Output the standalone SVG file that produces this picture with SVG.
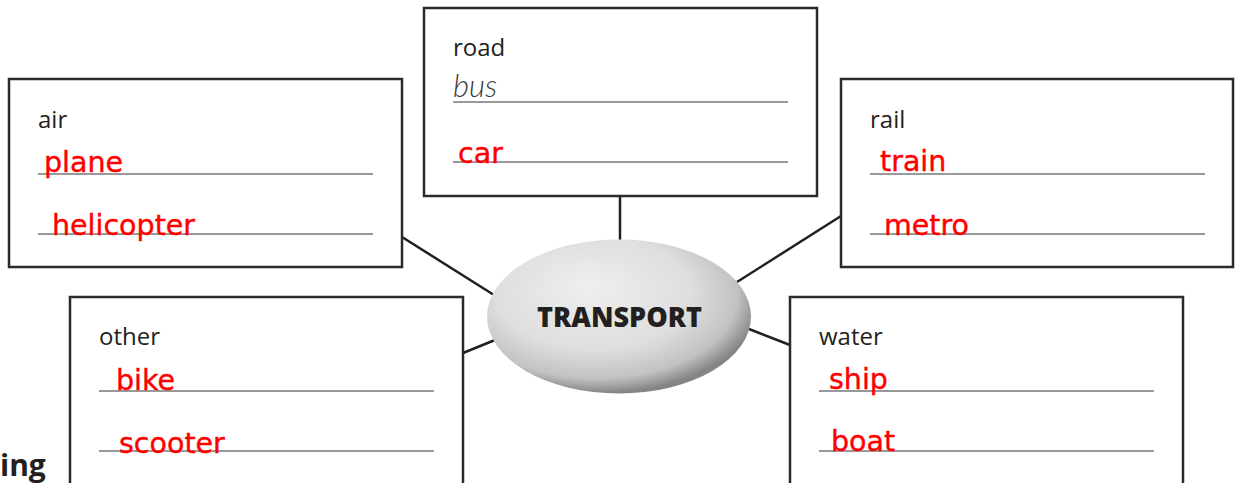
<svg xmlns="http://www.w3.org/2000/svg" width="1240" height="483" viewBox="0 0 1240 483">
<style>
.box{fill:#fff;stroke:#2b2b2b;stroke-width:2.5}
.rule{stroke:#999;stroke-width:2}
.lbl{font-family:"Open Sans","Noto Sans",sans-serif;font-size:24px;fill:#231f20}
.ans{font-family:"DejaVu Sans",sans-serif;font-size:28.5px;fill:#ff0000;stroke:#ff0000;stroke-width:0.4}
.ex{font-family:"Lato","Open Sans",sans-serif;font-size:31px;font-style:italic;font-weight:300;fill:#3a3a3a}
.conn{stroke:#231f20;stroke-width:2.5;fill:none}
</style>
<defs>
<radialGradient id="eg" cx="0.42" cy="0.38" r="0.62" fx="0.38" fy="0.3">
<stop offset="0" stop-color="#efefef"/>
<stop offset="0.6" stop-color="#dedede"/>
<stop offset="0.86" stop-color="#c2c2c2"/>
<stop offset="1" stop-color="#858585"/>
</radialGradient>
</defs>
<rect width="1240" height="483" fill="#fff"/>
<g id="connectors">
<line class="conn" x1="620" y1="196" x2="620" y2="241"/>
<line class="conn" x1="402" y1="237" x2="494" y2="295"/>
<line class="conn" x1="841" y1="216" x2="737" y2="282"/>
<line class="conn" x1="463" y1="353" x2="495" y2="340"/>
<line class="conn" x1="790" y1="345" x2="749" y2="329"/>
</g>
<g id="road">
<rect class="box" x="424" y="8" width="393" height="188"/>
<text class="lbl" x="453" y="56">road</text>
<text class="ex" x="453" y="97">bus</text>
<line class="rule" x1="453" y1="102" x2="788" y2="102"/>
<line class="rule" x1="453" y1="162" x2="788" y2="162"/>
<text class="ans" x="458" y="163">car</text>
</g>
<g id="air">
<rect class="box" x="9" y="79" width="393" height="188"/>
<text class="lbl" x="38" y="128">air</text>
<line class="rule" x1="38" y1="174" x2="373" y2="174"/>
<line class="rule" x1="38" y1="234" x2="373" y2="234"/>
<text class="ans" x="44" y="172">plane</text>
<text class="ans" x="52" y="235">helicopter</text>
</g>
<g id="rail">
<rect class="box" x="841" y="79" width="392" height="188"/>
<text class="lbl" x="870" y="128">rail</text>
<line class="rule" x1="870" y1="174" x2="1205" y2="174"/>
<line class="rule" x1="870" y1="234" x2="1205" y2="234"/>
<text class="ans" x="880" y="171">train</text>
<text class="ans" x="884" y="235">metro</text>
</g>
<g id="other">
<rect class="box" x="70" y="297" width="393" height="210"/>
<text class="lbl" x="99" y="345">other</text>
<line class="rule" x1="99" y1="391" x2="434" y2="391"/>
<line class="rule" x1="99" y1="451" x2="434" y2="451"/>
<text class="ans" x="116" y="390">bike</text>
<text class="ans" x="119" y="453">scooter</text>
</g>
<g id="water">
<rect class="box" x="790" y="297" width="393" height="210"/>
<text class="lbl" x="819" y="345">water</text>
<line class="rule" x1="819" y1="391" x2="1154" y2="391"/>
<line class="rule" x1="819" y1="451" x2="1154" y2="451"/>
<text class="ans" x="829" y="389">ship</text>
<text class="ans" x="831" y="451">boat</text>
</g>
<g id="transport">
<ellipse cx="619" cy="316.5" rx="132" ry="77" fill="url(#eg)"/>
<text x="537" y="327" textLength="165" lengthAdjust="spacingAndGlyphs" font-family="'Open Sans','Noto Sans',sans-serif" font-weight="800" font-size="28.5" fill="#231f20">TRANSPORT</text>
</g>
<text x="0" y="476" font-family="'Open Sans','Noto Sans',sans-serif" font-weight="700" font-size="30" fill="#231f20">ing</text>
</svg>
